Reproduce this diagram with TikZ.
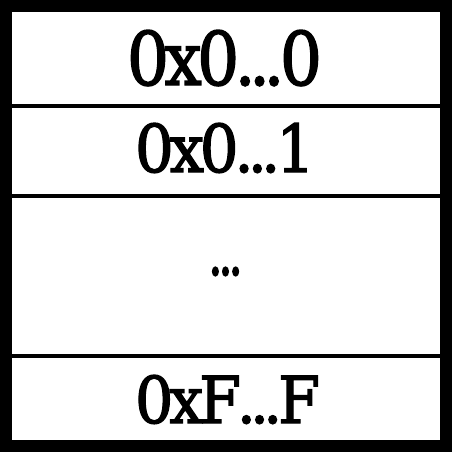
\documentclass[tikz,border=0pt]{standalone}
\usepackage{fontspec}
\newfontfamily\lblfont{DejaVu Serif}[FakeBold=2]
\newcommand{\tk}{\kern-0.07em}
\newcommand{\dts}{.\kern-0.1em.\kern-0.1em.}
\begin{document}
\begin{tikzpicture}[x=1pt,y=-1pt,
  sep/.style={line width=4pt,draw=black},
  lbl/.style={anchor=base,inner sep=0pt,outer sep=0pt,font=\lblfont}]
\useasboundingbox (0,0) rectangle (452,452);
\fill[black] (0,0) rectangle (452,452);
\fill[white] (12,12) rectangle (440,440);
\draw[sep] (12,106) -- (440,106);
\draw[sep] (12,196) -- (440,196);
\draw[sep] (12,356) -- (440,356);
\node[lbl] (a) at (224.5,85) {\resizebox{195pt}{55pt}{0\tk x\tk 0\tk\dts\tk 0}};
\node[lbl] (b) at (225,172) {\resizebox{180pt}{49pt}{0\tk x\tk 0\tk\dts\tk 1}};
\node[lbl] (c) at (227.5,423) {\resizebox{185pt}{48pt}{0\tk x\tk F\tk\dts\tk F}};
\node[lbl] (d) at (225.5,275) {\resizebox{35pt}{8pt}{\dts}};
\end{tikzpicture}
\end{document}
